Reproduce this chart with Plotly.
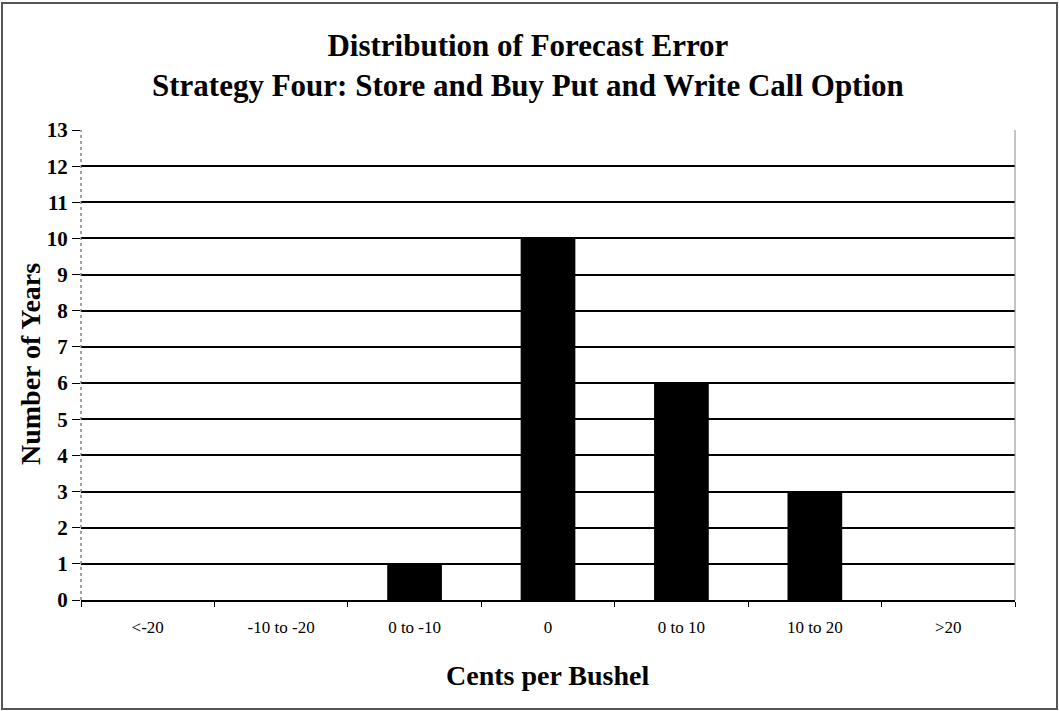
import plotly.graph_objects as go

# Histogram of forecast errors, in cents per bushel
categories = ["<-20", "-10 to -20", "0 to -10", "0", "0 to 10", "10 to 20", ">20"]
years = [0, 0, 1, 10, 6, 3, 0]
y_ticks = list(range(0, 14))

W, H = 1059, 711
L, R, T, B = 81, 44, 130, 111
pw, ph = W - L - R, H - T - B


def px_to_paper_x(x):
    return (x - L) / pw


def px_to_paper_y(y):
    return 1 - (y - T) / ph


serif = "Liberation Serif"

fig = go.Figure(
    go.Bar(
        x=categories,
        y=years,
        marker=dict(color="black", line=dict(width=0)),
        hoverinfo="x+y",
    )
)

fig.update_layout(
    width=W,
    height=H,
    margin=dict(l=L, r=R, t=T, b=B, autoexpand=False),
    paper_bgcolor="white",
    plot_bgcolor="white",
    bargap=0.59,
    showlegend=False,
    font=dict(family=serif, color="black"),
    title=dict(
        text="<b>Distribution of Forecast Error</b><br><b>Strategy Four: Store and Buy Put and Write Call Option</b>",
        font=dict(family=serif, size=31, color="black"),
        x=0.4985,
        xanchor="center",
        y=1 - 56 / H,
        yanchor="middle",
    ),
)

fig.update_xaxes(
    type="category",
    range=[-0.5, len(categories) - 0.5],
    automargin=False,
    showgrid=False,
    showline=True,
    linecolor="black",
    linewidth=1.5,
    ticks="outside",
    tickson="boundaries",
    ticklen=5,
    tickcolor="black",
    ticklabelstandoff=11,
    tickfont=dict(family=serif, size=17, color="black"),
)

fig.update_yaxes(
    range=[0, 13],
    automargin=False,
    tickvals=y_ticks,
    ticktext=[f"<b>{v}</b>" for v in y_ticks],
    showgrid=True,
    gridcolor="black",
    gridwidth=1.5,
    showline=False,
    ticks="outside",
    ticklen=8,
    tickcolor="black",
    tickfont=dict(family=serif, size=21, color="black"),
    zeroline=False,
)

# Axis titles
fig.add_annotation(
    text="<b>Cents per Bushel</b>",
    xref="paper", yref="paper",
    x=px_to_paper_x(548), y=px_to_paper_y(675),
    xanchor="center", yanchor="middle",
    showarrow=False,
    font=dict(family=serif, size=28, color="black"),
)
fig.add_annotation(
    text="<b>Number of Years</b>",
    xref="paper", yref="paper",
    x=px_to_paper_x(30), y=px_to_paper_y(364),
    xanchor="center", yanchor="middle",
    textangle=-90,
    showarrow=False,
    font=dict(family=serif, size=28, color="black"),
)

# Left (dashed) and right edges of the plotting area, and the outer chart frame
fig.add_shape(
    type="line", xref="paper", yref="paper",
    x0=0, x1=0, y0=0, y1=1,
    line=dict(color="#666666", width=1.2, dash="dot"),
)
fig.add_shape(
    type="line", xref="paper", yref="paper",
    x0=1, x1=1, y0=0, y1=1,
    line=dict(color="#888888", width=1),
)
fig.add_shape(
    type="rect", xref="paper", yref="paper",
    x0=px_to_paper_x(2), x1=px_to_paper_x(1057),
    y0=px_to_paper_y(709), y1=px_to_paper_y(3),
    line=dict(color="#555555", width=2),
    fillcolor="rgba(0,0,0,0)",
    layer="below",
)

fig.write_html("out.html")
